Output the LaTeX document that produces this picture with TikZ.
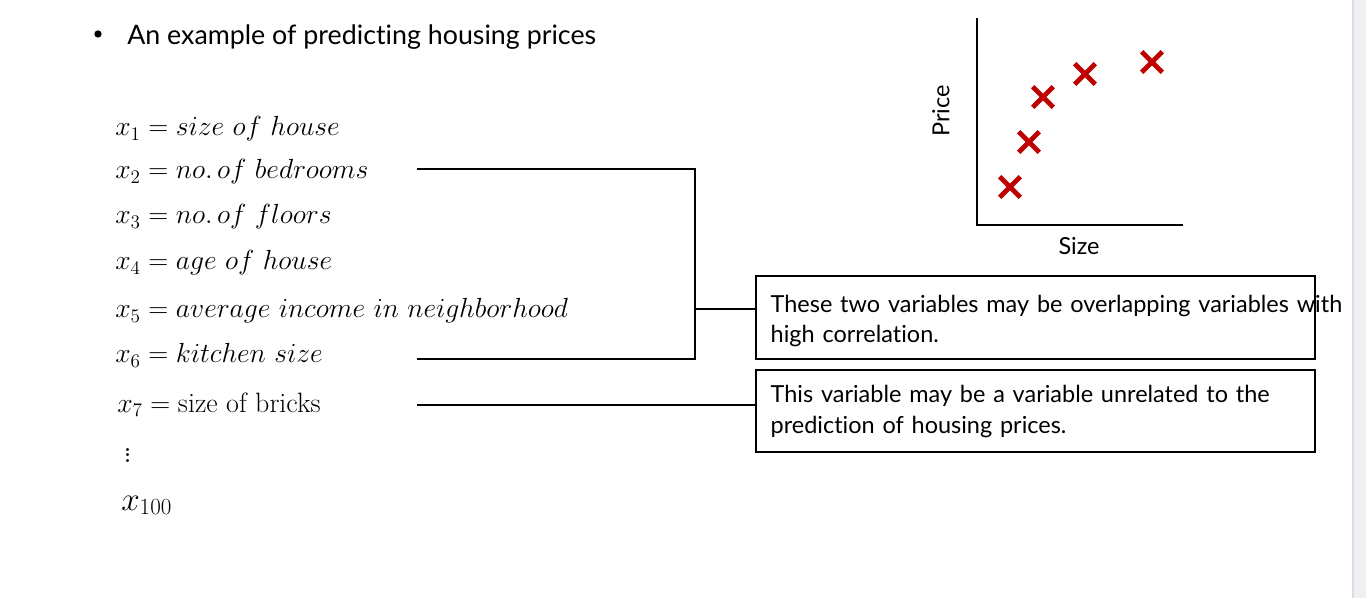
\documentclass[tikz,border=0pt]{standalone}
\usepackage{fontspec}
\newfontfamily\gill[Ligatures=NoCommon]{Lato}
\usetikzlibrary{shapes.misc, positioning}
\definecolor{crossred}{HTML}{C00000}
\definecolor{stripgray}{HTML}{EFEFF4}
\definecolor{stripedge}{HTML}{DCDCE2}

\begin{document}
\begin{tikzpicture}[
   x=0.75pt, y=-0.75pt,
   var/.style={
     anchor=base west,
     inner sep=0pt,
     font=\fontsize{21}{24}\selectfont,
    },
   note/.style={
     draw,
     line width=1.5pt,
     anchor=north west,
     align=left,
     text width=397pt,
     inner xsep=11pt,
     inner ysep=0pt,
     text height=27pt,
     text depth=34.5pt,
     font=\gill\fontsize{17.6}{22.7}\selectfont,
    },
   label/.style={
     font=\gill\fontsize{17.6}{20}\selectfont,
     inner sep=0pt,
    },
   xmark/.style={
     cross out,
     draw=crossred,
     line width=3.5pt,
     minimum size=12pt,
     inner sep=0pt,
    },
   link/.style={line width=1.2pt},
   axis/.style={line width=1.6pt},
  ]

\useasboundingbox[fill=white] (0,0) rectangle (1366,598);
\fill[stripgray] (1353,0) rectangle (1366,598);
\draw[stripedge, line width=0.8pt] (1353,0) -- (1353,598);

\node[circle, fill, inner sep=0pt, minimum size=5.5pt] (bul) at (98,34) {};
\node[anchor=base west, inner sep=0pt, font=\gill\fontsize{20.1}{22}\selectfont] (title) at (127,45) {An example of predicting housing prices};

\node[var] (x1) at (115,136) {$x_1 = size\ of\ house$};
\node[var] (x2) at (115,179) {$x_2 = no.\,of\ bedrooms$};
\node[var] (x3) at (115,224) {$x_3 = no.\,of\ floors$};
\node[var] (x4) at (115,270) {$x_4 = age\ of\ house$};
\node[var] (x5) at (115,318) {$x_5 = average\ income\ in\ neighborhood$};
\node[var] (x6) at (115,363) {$x_6 = kitchen\ size$};
\node[var] (x7) at (117,412) {$x_7 = \textrm{size of bricks}$};
\node[var, font=\fontsize{27}{30}\selectfont] (dots) at (123,462) {$\vdots$};
\node[var, font=\fontsize{24}{26}\selectfont] (x100) at (121,510) {$x_{100}$};

\node[note] (corr) at (755,275.5) {\makebox[\linewidth][l]{These two variables may be overlapping variables with}\\high correlation.};
\node[note, text height=25pt, text depth=36.5pt] (unrel) at (755,368.5) {This variable may be a variable unrelated to the\\prediction of housing prices.};

\coordinate (b2) at (417,169);
\coordinate (b6) at (417,359);
\coordinate (b7) at (417,405);
\coordinate (j) at (695,309);
\draw[link] (b2) -| (j) |- (b6);
\draw[link] (j) -- (j -| corr.west);
\draw[link] (b7) -- (b7 -| unrel.west);

\coordinate (ytop) at (977,18);
\coordinate (orig) at (977,225);
\coordinate (xend) at (1183,225);
\draw[axis] (ytop) -- (orig) -- (xend);
\node[label, rotate=90] (price) at (941,111) {Price};
\node[label, anchor=base] (size) at (1079,255) {Size};
\foreach \px/\py [count=\i] in {1010/187, 1029/142, 1043/97, 1085/74, 1152/62}
  \node[xmark] (c\i) at (\px,\py) {};
\end{tikzpicture}
\end{document}
